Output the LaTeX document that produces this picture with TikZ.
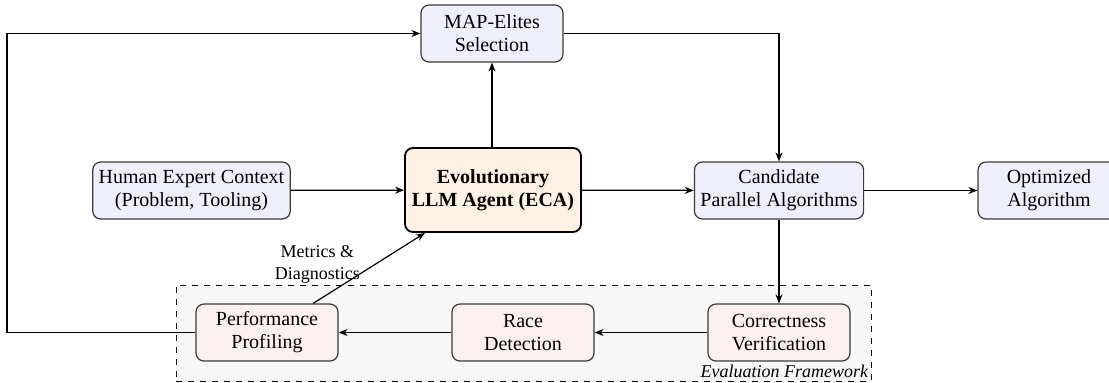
\documentclass[tikz,border=0pt]{standalone}
\usepackage{fontspec}
\setmainfont{Liberation Serif}
\usetikzlibrary{arrows.meta}
\definecolor{bluefill}{HTML}{EFEFFC}
\definecolor{pinkfill}{HTML}{FDF0F0}
\definecolor{orangefill}{HTML}{FFF1E3}
\definecolor{framefill}{HTML}{F7F7F7}
\definecolor{boxline}{HTML}{3A3A3A}
\tikzset{
  box/.style={draw=boxline, line width=0.6pt, rounded corners=4pt, align=center,
    minimum width=71pt, minimum height=28.5pt, inner xsep=3pt, inner ysep=2pt,
    font=\fontsize{10}{11.5}\selectfont},
  bluebox/.style={box, fill=bluefill},
  pinkbox/.style={box, fill=pinkfill},
  agentbox/.style={box, draw=black, line width=0.9pt, fill=orangefill,
    minimum width=88pt, minimum height=42pt, font=\fontsize{10}{11.5}\selectfont\bfseries},
  conn/.style={line width=0.6pt, -{Stealth[length=4.5pt,width=3.5pt]}},
  frame/.style={draw=black, dashed, line width=0.5pt, fill=framefill}
}
\begin{document}
\begin{tikzpicture}[x=1pt,y=1pt]
\useasboundingbox (0,0) rectangle (554.5,-191);
% evaluation frame
\node[frame, minimum width=347.5pt, minimum height=48pt, inner sep=0pt] (frame) at (261.75,-166.5) {};
\node[anchor=south east, inner sep=1.5pt, font=\small\itshape] (evallabel) at (frame.south east) {Evaluation Framework};
% nodes
\node[bluebox] (map) at (246,-16.75) {MAP-Elites\\Selection};
\node[bluebox] (human) at (95.75,-95.25) {Human Expert Context\\(Problem, Tooling)};
\node[agentbox] (eca) at (246.5,-95) {Evolutionary\\LLM Agent (ECA)};
\node[bluebox] (cand) at (389.5,-95.25) {Candidate\\Parallel Algorithms};
\node[bluebox] (opt) at (524.5,-95.25) {Optimized\\Algorithm};
\node[pinkbox] (perf) at (133.5,-166.25) {Performance\\Profiling};
\node[pinkbox] (race) at (261.5,-166.25) {Race\\Detection};
\node[pinkbox] (corr) at (389.5,-166.25) {Correctness\\Verification};
\coordinate (loopbot) at (3.5,-166.25);
\coordinate (looptop) at (3.5,-16.75);
% connectors
\draw[conn] (human) -- (eca);
\draw[conn] (eca) -- (cand);
\draw[conn] (cand) -- (opt);
\draw[conn] (eca.north -| map.south) -- (map.south);
\draw[conn] (map.east) -| (cand.north);
\draw[conn] (cand) -- (corr);
\draw[conn] (corr) -- (race);
\draw[conn] (race) -- (perf);
\draw[conn] (perf.west) -- (loopbot) -- (looptop) -- (map.west);
\draw[conn] (perf) -- node[midway, anchor=east, xshift=-1pt, yshift=2pt, align=center, font=\small] (metrics) {Metrics \&\\Diagnostics} (eca);
\end{tikzpicture}
\end{document}
